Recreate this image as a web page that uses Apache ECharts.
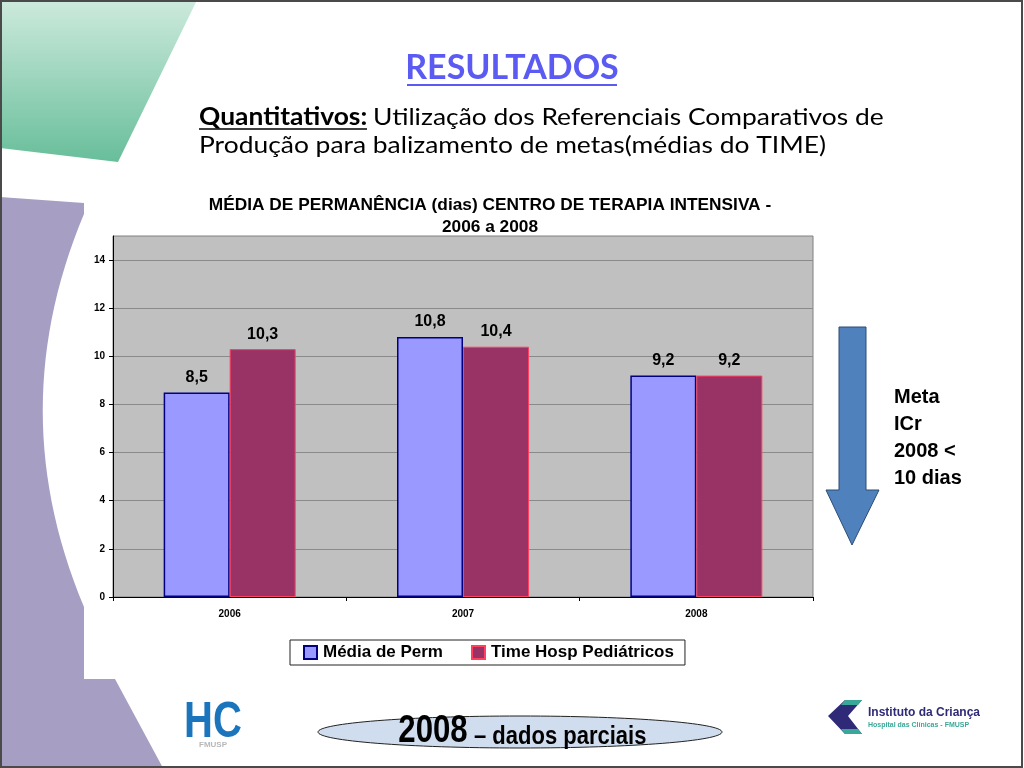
<!DOCTYPE html>
<html>
<head>
<meta charset="utf-8">
<script src="https://cdn.jsdelivr.net/npm/echarts@6/dist/echarts.min.js"></script>
<style>
html,body{margin:0;padding:0;background:#fff;}
#chart{width:1024px;height:768px;}
</style>
</head>
<body>
<div id="chart"></div>
<script>
var categories = ['2006', '2007', '2008'];
var mediaPerm = [8.5, 10.8, 9.2];
var timeHosp = [10.3, 10.4, 9.2];
var seriesNames = ['Média de Perm', 'Time Hosp Pediátricos'];
var yTicks = [0, 2, 4, 6, 8, 10, 12, 14];

var chart = echarts.init(document.getElementById('chart'));
var ARIAL = "'Liberation Sans', Arial, sans-serif";
var SLIDE = "Lato, 'Open Sans', sans-serif";

function fmt(p) { return String(p.value).replace('.', ','); }

function purpleShape() {
  var pts = [[0,197],[84,203],[84,214]];
  var p0 = [84,214], c1 = [29,345], c2 = [29,476], p3 = [84,607];
  for (var i = 1; i <= 30; i++) {
    var t = i / 30, u = 1 - t;
    pts.push([
      u*u*u*p0[0] + 3*u*u*t*c1[0] + 3*u*t*t*c2[0] + t*t*t*p3[0],
      u*u*u*p0[1] + 3*u*u*t*c1[1] + 3*u*t*t*c2[1] + t*t*t*p3[1]
    ]);
  }
  pts.push([84,679],[115,679],[163,768],[0,768]);
  return pts;
}

var option = {
  backgroundColor: '#ffffff',
  animation: false,
  title: {
    text: 'MÉDIA DE PERMANÊNCIA (dias) CENTRO DE TERAPIA INTENSIVA -\n2006 a 2008',
    left: 485, top: 189, textAlign: 'center',
    textStyle: { fontFamily: ARIAL, fontWeight: 'bold', fontSize: 17.3, lineHeight: 22, color: '#000' }
  },
  legend: {
    data: seriesNames,
    left: 290, top: 640,
    padding: [4, 11, 4, 13],
    itemGap: 28,
    itemWidth: 13, itemHeight: 13,
    icon: 'rect',
    backgroundColor: '#fff',
    borderColor: '#222', borderWidth: 1,
    textStyle: { fontFamily: ARIAL, fontWeight: 'bold', fontSize: 17, color: '#000', padding: [0, 0, 0, 1] }
  },
  grid: {
    left: 113, right: 211, top: 236, bottom: 171,
    show: true, backgroundColor: '#C0C0C0', borderColor: '#808080', borderWidth: 1
  },
  xAxis: {
    type: 'category', data: categories,
    axisLine: { lineStyle: { color: '#000', width: 1 } },
    axisTick: { show: true, length: 4, lineStyle: { color: '#000' } },
    axisLabel: { fontFamily: ARIAL, fontWeight: 'bold', fontSize: 10, color: '#000', margin: 12 }
  },
  yAxis: {
    type: 'value', min: 0, max: 15, interval: 2,
    axisLine: { show: true, lineStyle: { color: '#000', width: 1 } },
    axisTick: { show: true, length: 4, lineStyle: { color: '#000' }, customValues: yTicks },
    splitLine: { lineStyle: { color: '#8a8a8a', width: 1 } },
    axisLabel: {
      fontFamily: ARIAL, fontWeight: 'bold', fontSize: 10, color: '#000', margin: 8,
      customValues: yTicks,
      formatter: function (v) { return yTicks.indexOf(v) >= 0 ? String(v) : ''; }
    }
  },
  series: [
    {
      name: seriesNames[0], type: 'bar', data: mediaPerm,
      barWidth: 66, barGap: '0%',
      itemStyle: { color: '#9999FF', borderColor: '#000080', borderWidth: 1.5 },
      label: { show: true, position: 'top', distance: 7, formatter: fmt,
        fontFamily: ARIAL, fontWeight: 'bold', fontSize: 16, color: '#000' }
    },
    {
      name: seriesNames[1], type: 'bar', data: timeHosp,
      barWidth: 66, barGap: '0%',
      itemStyle: { color: '#993366', borderColor: '#ff4060', borderWidth: 1 },
      label: { show: true, position: 'top', distance: 7, formatter: fmt,
        fontFamily: ARIAL, fontWeight: 'bold', fontSize: 16, color: '#000' }
    }
  ],
  graphic: { elements: [
    { type: 'polygon', z: -10, shape: { points: [[0,0],[197,0],[118,162],[0,148]] },
      style: { fill: new echarts.graphic.LinearGradient(0,0,0,1,[{offset:0,color:'#cdeadd'},{offset:1,color:'#68be9a'}]) } },
    { type: 'polygon', z: -10, shape: { points: purpleShape() }, style: { fill: '#a69fc3' } },
    { type: 'rect', z: 50, shape: { x: 1, y: 1, width: 1021, height: 766 },
      style: { fill: null, stroke: '#4a4a4a', lineWidth: 2 } },
    { type: 'text', x: 512, y: 68, style: { text: 'RESULTADOS', font: 'bold 34px ' + SLIDE, fill: '#5b5bf3', textAlign: 'center', textVerticalAlign: 'middle' } },
    { type: 'line', shape: { x1: 407, y1: 85, x2: 617, y2: 85 }, style: { stroke: '#5b5bf3', lineWidth: 2 } },
    { type: 'text', x: 199, y: 117, scaleX: 1.1,
      style: { text: 'Quantitativos:', font: 'bold 24px ' + SLIDE, fill: '#000', textAlign: 'left', textVerticalAlign: 'middle' } },
    { type: 'line', shape: { x1: 199, y1: 129, x2: 367, y2: 129 }, style: { stroke: '#000', lineWidth: 1.5 } },
    { type: 'text', x: 373, y: 117, scaleX: 1.1,
      style: { text: 'Utilização dos Referenciais Comparativos de', font: '24px ' + SLIDE, fill: '#000', textAlign: 'left', textVerticalAlign: 'middle' } },
    { type: 'text', x: 199, y: 145, scaleX: 1.1,
      style: { text: 'Produção para balizamento de metas(médias do TIME)', font: '24px ' + SLIDE, fill: '#000', textAlign: 'left', textVerticalAlign: 'middle' } },
    { type: 'polygon', shape: { points: [[839,327],[866,327],[866,490],[879,490],[852,545],[826,490],[839,490]] },
      style: { fill: '#4f81bd', stroke: '#2c4d75', lineWidth: 1 } },
    { type: 'text', x: 894, y: 384, style: { text: 'Meta\nICr\n2008 <\n10 dias', font: 'bold 20px ' + ARIAL, lineHeight: 27, fill: '#000', textAlign: 'left', textVerticalAlign: 'top' } },
    { type: 'ellipse', shape: { cx: 520, cy: 732, rx: 202, ry: 16 }, style: { fill: '#d0ddee', stroke: '#222', lineWidth: 1 } },
    { type: 'text', x: 433, y: 732, scaleX: 0.82,
      style: { text: '2008', font: 'bold 38px ' + ARIAL, fill: '#000', textAlign: 'center', textVerticalAlign: 'middle' } },
    { type: 'text', x: 474, y: 737, scaleX: 0.88,
      style: { text: '– dados parciais', font: 'bold 25px ' + ARIAL, fill: '#000', textAlign: 'left', textVerticalAlign: 'middle' } },
    { type: 'text', x: 213, y: 723, scaleX: 0.8,
      style: { text: 'HC', font: 'bold 50px ' + ARIAL, fill: '#1b75bc', textAlign: 'center', textVerticalAlign: 'middle' } },
    { type: 'text', x: 213, y: 745, style: { text: 'FMUSP', font: 'bold 8px ' + ARIAL, fill: '#b8b8b8', textAlign: 'center', textVerticalAlign: 'middle' } },
    { type: 'polygon', shape: { points: [[845,700],[862,700],[848,716],[862,734],[845,734],[828,716]] }, style: { fill: '#2e2a78' } },
    { type: 'polygon', shape: { points: [[845,700],[862,700],[858,705],[841,705]] }, style: { fill: '#3aa898' } },
    { type: 'polygon', shape: { points: [[841,729],[858,729],[862,734],[845,734]] }, style: { fill: '#3aa898' } },
    { type: 'text', x: 868, y: 713, style: { text: 'Instituto da Criança', font: 'bold 12px ' + ARIAL, fill: '#2e2a78', textAlign: 'left', textVerticalAlign: 'middle' } },
    { type: 'text', x: 868, y: 725, style: { text: 'Hospital das Clínicas - FMUSP', font: 'bold 7px ' + ARIAL, fill: '#3aa898', textAlign: 'left', textVerticalAlign: 'middle' } }
  ] }
};
chart.setOption(option);
</script>
</body>
</html>
